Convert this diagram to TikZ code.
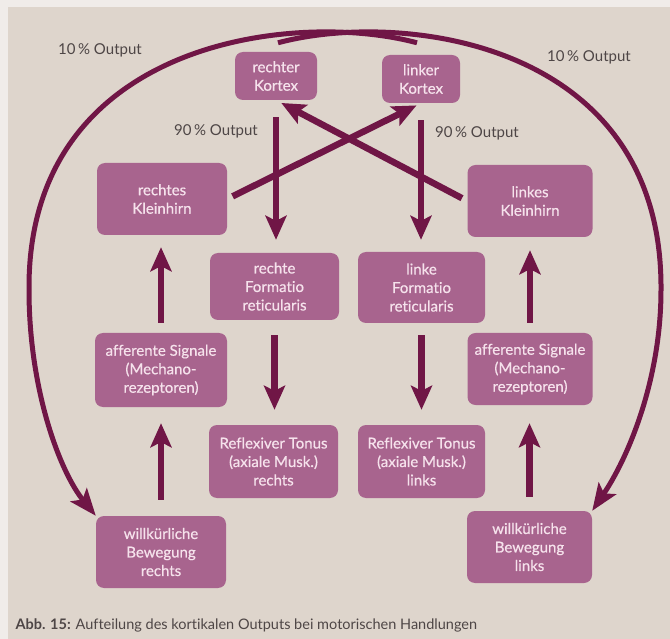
\documentclass[tikz,border=0pt]{standalone}
\usepackage{fontspec}
\setmainfont{Lato}[Ligatures=NoCommon]
\newfontfamily\boxfont{Lato}[FakeBold=0.6,Ligatures=NoCommon]
\usetikzlibrary{arrows.meta,positioning}
\definecolor{boxfill}{RGB}{168,100,142}
\definecolor{boxtext}{RGB}{246,226,236}
\definecolor{pfeilfarbe}{RGB}{112,22,70}
\definecolor{papier}{RGB}{222,213,204}
\definecolor{rand}{RGB}{240,236,233}
\definecolor{schrift}{RGB}{78,70,70}
\tikzset{Box/.style={rectangle,rounded corners=8pt,fill=boxfill,text=boxtext,align=center,inner sep=0pt,font=\boxfont\fontsize{15}{18.5}\selectfont}}
\tikzset{Pfeil/.style={draw=pfeilfarbe,line width=6.5pt,-{Stealth[length=24pt,width=21pt,inset=5pt]}}}
\tikzset{Bogen/.style={draw=pfeilfarbe,line width=5pt,-{Stealth[length=27pt,width=21pt,inset=6pt]}}}
\tikzset{Label/.style={text=schrift,font=\fontsize{15}{17}\selectfont}}
\begin{document}
\begin{tikzpicture}[x=1pt,y=-1pt]
\useasboundingbox (0,0) rectangle (670,639);
\fill[rand] (0,0) rectangle (670,639);
\fill[papier] (8,7) rectangle (670,639);
% Kortex
\node (rK) at (276,76) [Box,minimum width=82pt,minimum height=48pt] {rechter\\Kortex};
\node (lK) at (421,79) [Box,minimum width=78pt,minimum height=48pt] {linker\\Kortex};
% Kleinhirn
\node (rKH) at (162,199) [Box,minimum width=130pt,minimum height=72pt] {rechtes\\Kleinhirn};
\node (lKH) at (530,201) [Box,minimum width=125pt,minimum height=72pt] {linkes\\Kleinhirn};
% Formatio reticularis
\node (rFR) at (274.5,286.5) [Box,minimum width=129pt,minimum height=67pt] {rechte\\Formatio\\reticularis};
\node (lFR) at (421.5,287.5) [Box,minimum width=127pt,minimum height=71pt] {linke\\Formatio\\reticularis};
% afferente Signale
\node (rAS) at (161,370) [Box,minimum width=132pt,minimum height=74pt] {afferente Signale\\(Mechano-\\rezeptoren)};
\node (lAS) at (530,369) [Box,minimum width=125pt,minimum height=72pt] {afferente Signale\\(Mechano-\\rezeptoren)};
% Tonus
\node (rRT) at (273.5,461.5) [Box,minimum width=129pt,minimum height=73pt] {Reflexiver Tonus\\(axiale Musk.)\\rechts};
\node (lRT) at (421.5,461.5) [Box,minimum width=127pt,minimum height=73pt] {Reflexiver Tonus\\(axiale Musk.)\\links};
% Bewegung
\node (rWB) at (161,552) [Box,minimum width=130pt,minimum height=72pt] {willkürliche\\Bewegung\\rechts};
\node (lWB) at (529.5,547) [Box,minimum width=125pt,minimum height=72pt] {willkürliche\\Bewegung\\links};
% Beschriftung
\node (o10l) at (100,50) [Label] {10\,\% Output};
\node (o10r) at (589,57) [Label] {10\,\% Output};
\node (o90l) at (216,131) [Label] {90\,\% Output};
\node (o90r) at (477,133) [Label] {90\,\% Output};
\node (abb) at (12,625) [anchor=west,text=schrift,font=\fontsize{14.5}{17}\selectfont] {\textbf{Abb. 15:} Aufteilung des kortikalen Outputs bei motorischen Handlungen};
% 10 % Output
\draw [Bogen] (rK.north) ++(2,-9) .. controls (400,10) and (663,40) .. (661,290) .. controls (661,380) and (628,458) .. (lWB.north east);
\draw [Bogen] (lK.north) ++(-4,-12) .. controls (295,10) and (27,40) .. (29,290) .. controls (29,390) and (60,472) .. (rWB.north west);
% 90 % Output
\draw [Pfeil,shorten <=17pt,shorten >=13pt] (rK.south) -- (rK.south |- rFR.north);
\draw [Pfeil,shorten <=17pt,shorten >=12pt] (lK.south) -- (lK.south |- lFR.north);
\draw [Pfeil,shorten <=15pt,shorten >=15pt] (rFR.south) -- (rFR.south |- rRT.north);
\draw [Pfeil,shorten <=12pt,shorten >=15pt] (lFR.south) -- (lFR.south |- lRT.north);
% Rueckmeldung
\draw [Pfeil,shorten <=16pt,shorten >=16pt] (rWB.north) -- (rWB.north |- rAS.south);
\draw [Pfeil,shorten <=14pt,shorten >=18pt] (lWB.north) -- (lWB.north |- lAS.south);
\draw [Pfeil,shorten <=10pt,shorten >=12pt] (rAS.north) -- (rAS.north |- rKH.south);
\draw [Pfeil,shorten <=10pt,shorten >=13pt] (lAS.north) -- (lAS.north |- lKH.south);
\draw [Pfeil,shorten <=6pt,shorten >=5pt] (rKH.east) -- (lK.south);
\draw [Pfeil,shorten <=6pt,shorten >=6pt] (lKH.west) -- (rK.south);
\end{tikzpicture}
\end{document}
